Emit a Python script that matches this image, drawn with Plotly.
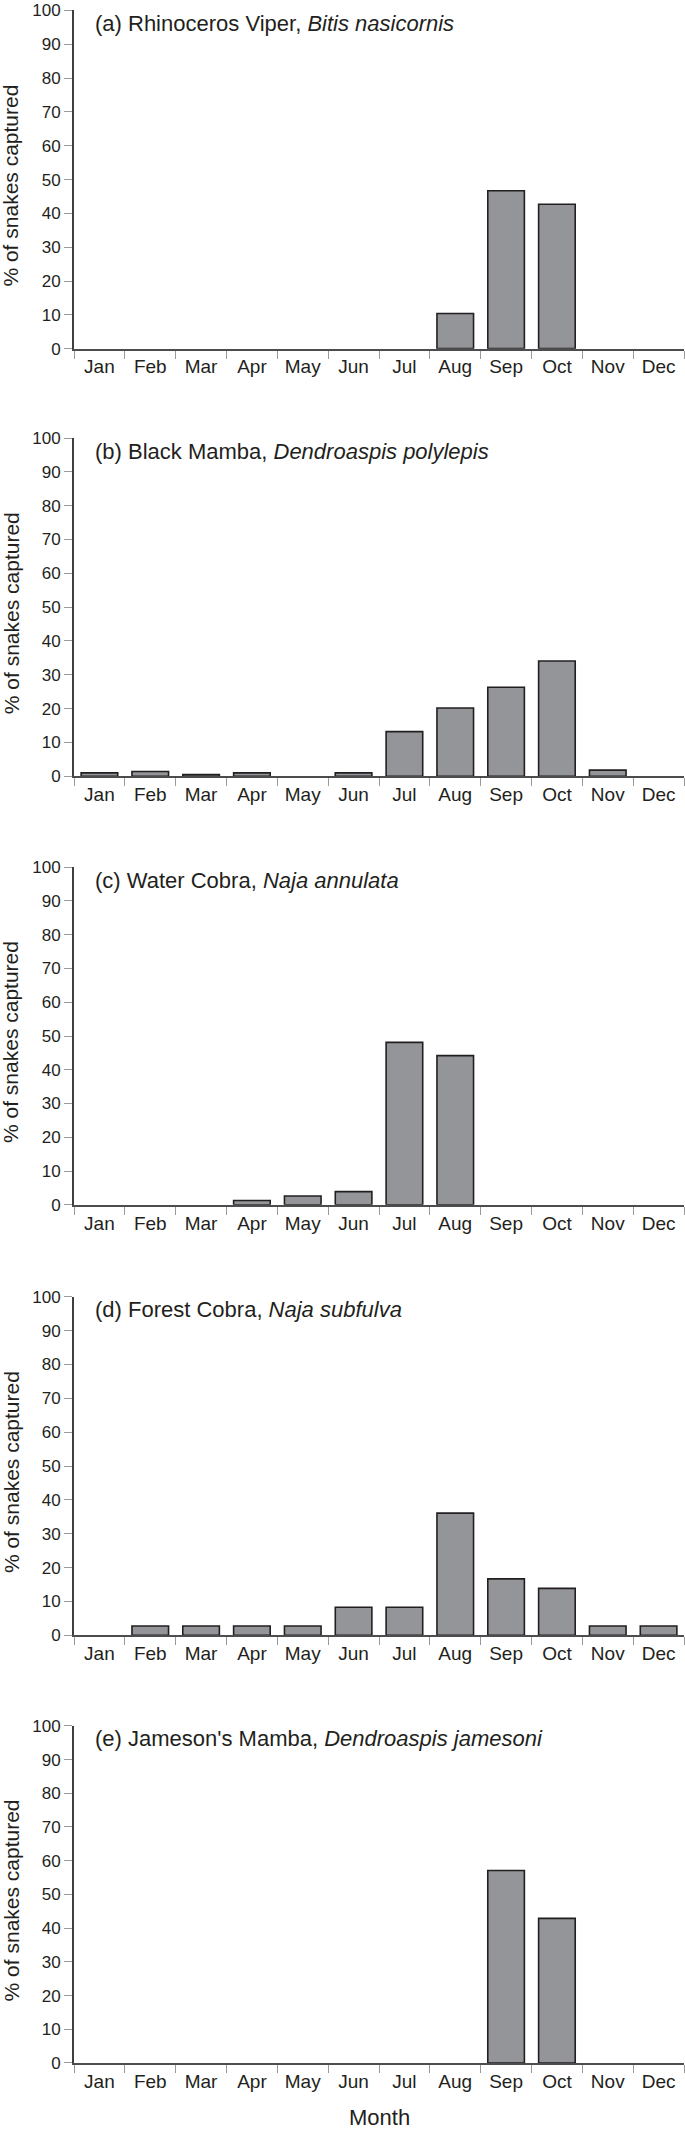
import plotly.graph_objects as go
from plotly.subplots import make_subplots

months = ["Jan", "Feb", "Mar", "Apr", "May", "Jun", "Jul", "Aug", "Sep", "Oct", "Nov", "Dec"]

titles = [
    "(a) Rhinoceros Viper, <i>Bitis nasicornis</i>",
    "(b) Black Mamba, <i>Dendroaspis polylepis</i>",
    "(c) Water Cobra, <i>Naja annulata</i>",
    "(d) Forest Cobra, <i>Naja subfulva</i>",
    "(e) Jameson's Mamba, <i>Dendroaspis jamesoni</i>",
]

rhinoceros_viper = [0, 0, 0, 0, 0, 0, 0, 10.4, 46.7, 42.7, 0, 0]
black_mamba = [1.0, 1.4, 0.5, 1.0, 0, 1.0, 13.2, 20.2, 26.3, 34.1, 1.8, 0]
water_cobra = [0, 0, 0, 1.3, 2.6, 3.9, 48.1, 44.2, 0, 0, 0, 0]
forest_cobra = [0, 2.8, 2.8, 2.8, 2.8, 8.3, 8.3, 36.1, 16.7, 13.9, 2.8, 2.8]
jamesons_mamba = [0, 0, 0, 0, 0, 0, 0, 0, 57.1, 42.9, 0, 0]

series = [rhinoceros_viper, black_mamba, water_cobra, forest_cobra, jamesons_mamba]

y_ticks = list(range(0, 101, 10))

W, H = 685, 2130
MT, MB, ML, MR = 8, 67, 74, 1
paper_h = H - MT - MB
zero_px = H - MB  # pixel of paper bottom
tops = [8.5, 436.5, 866, 1296, 1725.5]
bottoms = [347, 775, 1204, 1635, 2063]

FONT = "Liberation Sans, Arial, Helvetica, sans-serif"
TXT = "#231f20"

fig = make_subplots(rows=5, cols=1)

for i, vals in enumerate(series):
    r = i + 1
    fig.add_trace(
        go.Bar(
            x=months,
            y=vals,
            marker=dict(
                color="#939598",
                line=dict(color="#231f20", width=[1.6 if v > 0 else 0 for v in vals]),
            ),
            showlegend=False,
            hoverinfo="x+y",
        ),
        row=r, col=1,
    )
    d0 = (zero_px - bottoms[i]) / paper_h
    d1 = (zero_px - tops[i]) / paper_h
    xa = "xaxis" if r == 1 else f"xaxis{r}"
    ya = "yaxis" if r == 1 else f"yaxis{r}"
    fig.layout[xa].update(
        domain=[0, 1],
        type="category",
        categoryorder="array",
        categoryarray=months,
        range=[-0.5, 11.5],
        tickson="boundaries",
        ticks="outside",
        ticklen=8,
        tickwidth=1,
        tickcolor="#9a9a9a",
        showline=True,
        linecolor="#4d4d4f",
        linewidth=2,
        showgrid=False,
        zeroline=False,
        tickfont=dict(family=FONT, size=19, color=TXT),
        fixedrange=True,
    )
    fig.layout[ya].update(
        domain=[d0, d1],
        range=[0, 100],
        tickmode="array",
        tickvals=y_ticks,
        ticktext=[str(v) for v in y_ticks],
        ticks="outside",
        ticklen=8,
        tickwidth=1,
        tickcolor="#9a9a9a",
        showline=True,
        linecolor="#3f3f41",
        linewidth=2,
        showgrid=False,
        zeroline=False,
        tickfont=dict(family=FONT, size=17, color=TXT),
        fixedrange=True,
    )
    xref = "x domain" if r == 1 else f"x{r} domain"
    yref = "y domain" if r == 1 else f"y{r} domain"
    ph = bottoms[i] - tops[i]
    fig.add_annotation(
        text=titles[i], xref=xref, yref=yref,
        x=(93 - ML) / (W - ML - MR), y=1 - 13 / ph,
        xanchor="left", yanchor="middle", showarrow=False,
        font=dict(family=FONT, size=22, color=TXT),
    )
    fig.add_annotation(
        text="% of snakes captured", xref=xref, yref=yref,
        x=(11 - ML) / (W - ML - MR), y=0.5 - 6 / ph,
        xanchor="center", yanchor="middle", textangle=-90, showarrow=False,
        font=dict(family=FONT, size=21, color=TXT),
    )

fig.add_annotation(
    text="Month", xref="paper", yref="paper",
    x=(379 - ML) / (W - ML - MR), y=(zero_px - 2118) / paper_h,
    xanchor="center", yanchor="middle", showarrow=False,
    font=dict(family=FONT, size=22, color=TXT),
)

fig.update_layout(
    width=W, height=H,
    margin=dict(l=ML, r=MR, t=MT, b=MB),
    paper_bgcolor="white",
    plot_bgcolor="white",
    bargap=0.28,
    font=dict(family=FONT, color=TXT),
)

fig.write_html(
    "out.html",
    config={"displayModeBar": False},
    post_script="document.body.style.margin='0';document.body.style.overflow='hidden';",
)
